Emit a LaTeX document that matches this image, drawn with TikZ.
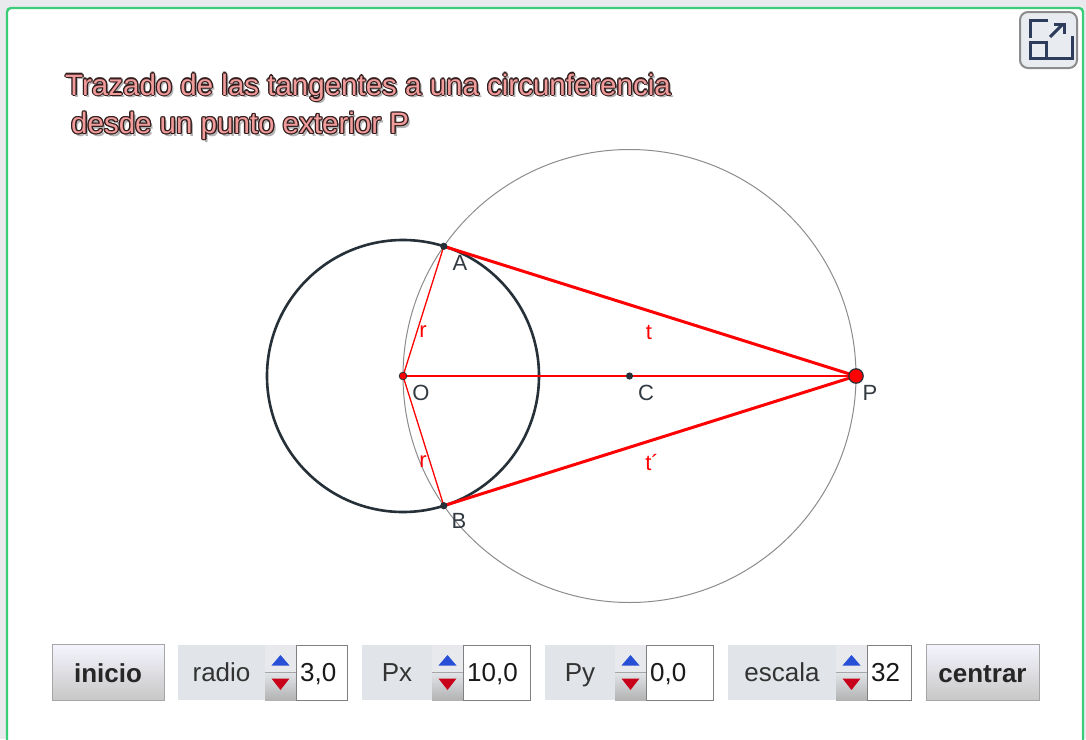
\documentclass[tikz,border=0pt]{standalone}
\usepackage{fontspec}
\setmainfont{Liberation Sans}
\definecolor{framegreen}{RGB}{60,205,120}
\definecolor{outgray}{RGB}{233,234,238}
\definecolor{panelgray}{RGB}{225,228,232}
\definecolor{labgray}{RGB}{50,58,66}
\definecolor{darkc}{RGB}{38,48,56}
\definecolor{titlepink}{RGB}{242,155,155}
\definecolor{titledark}{RGB}{50,30,30}
\definecolor{iconfill}{RGB}{232,235,239}
\definecolor{iconline}{RGB}{44,60,90}
\definecolor{upblue}{RGB}{40,80,215}
\definecolor{downred}{RGB}{200,0,25}
\definecolor{geored}{RGB}{255,0,0}
\tikzset{
  lbl/.style={font=\fontsize{22}{22}\selectfont, text=labgray, inner sep=0pt},
  rlbl/.style={font=\fontsize{22}{22}\selectfont, text=geored, inner sep=0pt},
  ctl/.style={font=\fontsize{26}{26}\selectfont, text=black!80, inner sep=0pt, anchor=base},
  btnbox/.style={draw=black!35, line width=0.8pt, top color=white!96!blue, bottom color=black!22,
    minimum height=56pt, inner sep=0pt, text height=19pt, text depth=0pt,
    font=\bfseries\fontsize{26}{26}\selectfont, text=black!85},
  ttl/.style={anchor=base west, inner sep=0pt, font=\fontsize{29.5}{38.5}\selectfont},
  thin/.style={geored, line width=1.3pt},
  tang/.style={geored, line width=3pt},
  dotd/.style={fill=darkc},
}
\newcommand\ctrlpanel[6]{%
  \fill[panelgray] (#1,645) rectangle (#2,700);
  \node[ctl] (#6lab) at ({(#1+#2)/2},681.5) {#4};
  \fill[panelgray!80!white] (#2,645) rectangle ({#2+31},672.5);
  \shade[top color=panelgray, bottom color=black!30] (#2,672.5) rectangle ({#2+31},700);
  \draw[black!35, line width=0.8pt] (#2,672.5) -- ({#2+31},672.5);
  \fill[upblue] ({#2+6.5},665.5) -- ({#2+15.5},655) -- ({#2+24.5},665.5) -- cycle;
  \fill[downred] ({#2+6.5},678.5) -- ({#2+15.5},690) -- ({#2+24.5},678.5) -- cycle;
  \draw[black!50, line width=1pt, fill=white] ({#2+31},645) rectangle (#3,700);
  \node[ctl, anchor=base west, text=black!90] (#6val) at ({#2+35},681.5) {#5};
}
\newcommand\tlineA{Trazado de las tangentes a una circunferencia}
\newcommand\tlineB{desde un punto exterior P}
\begin{document}
\begin{tikzpicture}[x=1pt,y=-1pt]
\useasboundingbox (0,0) rectangle (1086,739);
\clip (0,0) rectangle (1086,739);
\fill[outgray] (0,0) rectangle (1086,739);
\fill[white, rounded corners=4pt] (7,8) rectangle (1083,760);
\draw[framegreen, line width=2.4pt, rounded corners=4pt] (7,760) -- (7,8) -- (1083,8) -- (1083,760);

% fullscreen icon
\draw[black!45, line width=2pt, fill=iconfill, rounded corners=8pt] (1020,12) rectangle (1077,68);
\draw[iconline, line width=3pt] (1048,20) -- (1030,20) -- (1030,38);
\draw[iconline, line width=3pt] (1030,42) rectangle (1046,58);
\draw[iconline, line width=3pt] (1046,58) -- (1072,58) -- (1072,36);
\draw[iconline, line width=3pt] (1050,37) -- (1063,24);
\draw[iconline, line width=3pt] (1054,24) -- (1064,24) -- (1064,34);

% title: soft shadow, dark outline, pink fill
\node[ttl, text=black, opacity=0.3] (shA) at (67.5,97.5) {\tlineA};
\node[ttl, text=black, opacity=0.3] (shB) at (73.5,136) {\tlineB};
\foreach \dx/\dy [count=\k] in {1.3/0,-1.3/0,0/1.3,0/-1.3,0.95/0.95,-0.95/0.95,0.95/-0.95,-0.95/-0.95}{
  \node[ttl, text=titledark] (olA\k) at ({65+\dx},{95+\dy}) {\tlineA};
  \node[ttl, text=titledark] (olB\k) at ({71+\dx},{133.5+\dy}) {\tlineB};
}
\node[ttl, text=titlepink] (title1) at (65,95) {\tlineA};
\node[ttl, text=titlepink] (title2) at (71,133.5) {\tlineB};

% geometry
\coordinate (O) at (403,376);
\coordinate (P) at (856,376);
\coordinate (C) at (629.5,376);
\coordinate (A) at (443.8,246.3);
\coordinate (B) at (443.8,505.7);
\draw[black!45, line width=1pt] (C) circle[radius=226.5];
\draw[darkc, line width=2.6pt] (O) circle[radius=136];
\draw[thin] (O) -- (P);
\draw[thin] (O) -- (A);
\draw[thin] (O) -- (B);
\draw[tang] (A) -- (P);
\draw[tang] (B) -- (P);
\fill[dotd] (A) circle[radius=3.6];
\fill[dotd] (B) circle[radius=3.6];
\fill[dotd] (C) circle[radius=3.6];
\filldraw[fill=geored, draw=darkc, line width=0.8pt] (O) circle[radius=3.8];
\filldraw[fill=geored, draw=darkc, line width=1.2pt] (P) circle[radius=7.2];

\node[lbl] (lA) at (460,263) {A};
\node[lbl] (lO) at (421,393) {O};
\node[lbl] (lC) at (646,393) {C};
\node[lbl] (lP) at (870,393) {P};
\node[lbl] (lB) at (459,521) {B};
\node[rlbl] (lr1) at (423,332) {r};
\node[rlbl] (lr2) at (423,462) {r};
\node[rlbl] (lt1) at (649,332) {t};
\node[rlbl] (lt2) at (652,462) {t´};

% controls
\node[btnbox, minimum width=112pt] (inicio) at (108,672.5) {inicio};
\ctrlpanel{178}{265}{347}{radio}{3,0}{radio}
\ctrlpanel{362}{432}{530}{Px}{10,0}{px}
\ctrlpanel{545}{615}{713}{Py}{0,0}{py}
\ctrlpanel{728}{836}{911}{escala}{32}{esc}
\node[btnbox, minimum width=113pt] (centrar) at (982.5,672.5) {centrar};
\end{tikzpicture}
\end{document}
